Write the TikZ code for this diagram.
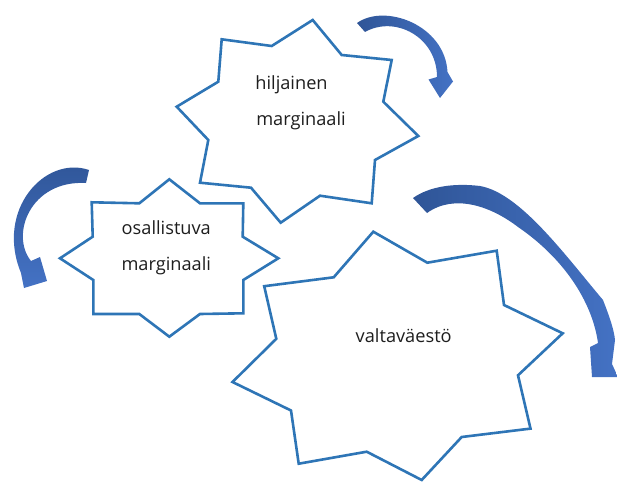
\documentclass[tikz,border=0pt]{standalone}
\usepackage{fontspec}
\setmainfont{Open Sans}
\definecolor{starblue}{HTML}{2E75B6}
\definecolor{arrdark}{HTML}{2F5597}
\definecolor{arrlight}{HTML}{4472C4}
\definecolor{txtcol}{HTML}{1E1E1E}
\tikzset{
  starshape/.style={draw=starblue, line width=2.6pt, line join=miter, fill=white},
  lbl/.style={anchor=base, inner sep=0pt, text=txtcol, font=\fontsize{18.2}{22}\selectfont},
  bentarrow/.style={draw=none}
}
\begin{document}
\begin{tikzpicture}[x=1pt,y=-1pt]
\useasboundingbox (0,0) rectangle (617,481);
% star 1 : hiljainen marginaali
\draw[starshape] (312.7,20) -- (341.7,55) -- (391.7,60) -- (383.3,101.7) -- (418.3,136) -- (375,160) -- (371.7,203.3) -- (320,195.7) -- (280.7,222.7) -- (251,187.7) -- (200,182.7) -- (208.3,140) -- (176.7,106.7) -- (218.3,81.7) -- (221.7,39.3) -- (271.7,46) -- cycle;
% star 2 : osallistuva marginaali
\draw[starshape] (169.3,179.3) -- (200,203.3) -- (243.3,203.3) -- (242.7,236.7) -- (278.3,258.3) -- (243.3,280) -- (243.3,313.3) -- (200,314) -- (169.3,336.7) -- (139.3,314) -- (93.3,314) -- (93.3,280) -- (60,258.3) -- (92.7,236.7) -- (91.7,202.3) -- (139.3,203.3) -- cycle;
% star 3 : valtavaesto
\draw[starshape] (373.3,231.7) -- (427.3,262.7) -- (496.7,250.7) -- (504,305) -- (562.7,333.3) -- (518,375.3) -- (530.5,428.6) -- (461.7,437) -- (421.7,480) -- (366.7,451.7) -- (298.7,463.7) -- (291,410.5) -- (232.5,382) -- (276.3,338.8) -- (264.2,286.2) -- (333.7,277.3) -- cycle;
% labels
\node[lbl] (t1a) at (291.5,90) {hiljainen};
\node[lbl] (t1b) at (301,126) {marginaali};
\node[lbl] (t2a) at (166.3,234.3) {osallistuva};
\node[lbl] (t2b) at (166.3,270) {marginaali};
\node[lbl] (t3) at (403.7,342.7) {valtaväestö};
% arrow 1 (top right)
\shade[bentarrow, left color=arrdark, right color=arrlight]
  (357,23) .. controls (385,3) and (445,25) .. (447.5,72)
  -- (453,81.5) -- (440,98) -- (428.5,79.5) -- (437,77)
  .. controls (437,37) and (395,15) .. (365,32) -- cycle;
% arrow 2 (left)
\shade[bentarrow, top color=arrdark, bottom color=arrlight]
  (89,170) .. controls (45,155) and (-5,210) .. (21,273)
  -- (24,288) -- (47,281) -- (40,257) -- (31,261)
  .. controls (10,235) and (30,180) .. (86,183) -- cycle;
% arrow 3 (big right)
\shade[bentarrow, left color=arrdark, right color=arrlight]
  (413,198) .. controls (430,186) and (455,183) .. (480,186)
  .. controls (520,193) and (565,255) .. (603,300)
  .. controls (610,318) and (614,330) .. (615,340)
  -- (612,364) -- (618,377) -- (592,377) -- (590,347) -- (598,343)
  .. controls (592,300) and (562,257) .. (518,227)
  .. controls (492,207) and (455,193) .. (427,213) -- cycle;
\end{tikzpicture}
\end{document}
